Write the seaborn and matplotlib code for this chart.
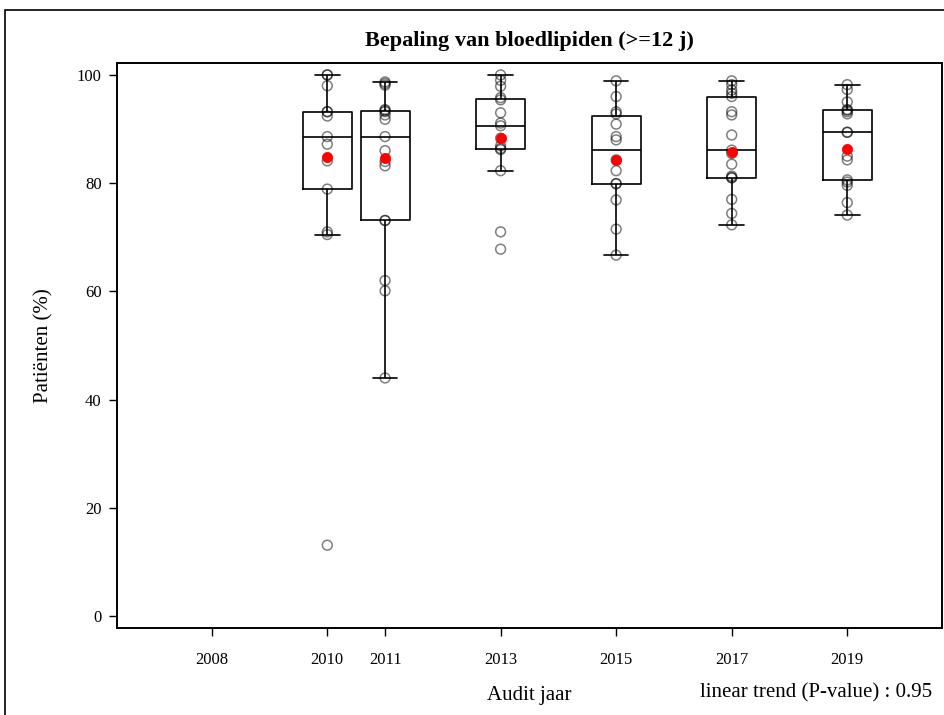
import numpy as np
import pandas as pd
import matplotlib
matplotlib.use("Agg")
import matplotlib.pyplot as plt
from matplotlib.patches import Rectangle
import seaborn as sns

# Percentage of patients per centre, per audit year
jaren = [2010, 2011, 2013, 2015, 2017, 2019]
waarden_2010 = [13.1, 70.5, 71.0, 78.9, 84.1, 87.2, 88.6, 92.4, 93.2, 93.2, 98.0, 100.0, 100.0]
waarden_2011 = [44.0, 60.1, 62.0, 73.1, 73.1, 83.2, 84.0, 86.0, 88.6, 91.8, 92.6, 93.2,
                93.4, 93.6, 98.1, 98.4, 98.7]
waarden_2013 = [67.8, 71.0, 82.3, 86.2, 86.4, 86.9, 88.3, 90.6, 91.1, 93.0, 95.4, 95.8,
                97.9, 99.0, 100.0]
waarden_2015 = [66.7, 71.5, 76.9, 79.9, 79.9, 82.3, 84.3, 88.0, 88.6, 90.9, 92.8, 93.2,
                96.0, 98.9]
waarden_2017 = [72.3, 74.4, 77.0, 81.0, 81.0, 81.3, 83.5, 85.5, 86.1, 88.9, 92.6, 93.2,
                96.0, 96.6, 97.2, 98.2, 98.9]
waarden_2019 = [74.1, 76.4, 79.6, 80.2, 80.6, 84.3, 85.0, 89.4, 89.4, 92.8, 93.2, 93.5,
                93.6, 95.0, 97.3, 98.2]
gemiddelden = [84.9, 84.7, 88.3, 84.3, 85.8, 86.3]

x_ticks = [2008, 2010, 2011, 2013, 2015, 2017, 2019]
y_ticks = [0, 20, 40, 60, 80, 100]
p_waarde = 0.95

reeksen = [waarden_2010, waarden_2011, waarden_2013, waarden_2015, waarden_2017, waarden_2019]
df = pd.DataFrame({
    "jaar": np.concatenate([[j] * len(w) for j, w in zip(jaren, reeksen)]),
    "pct": np.concatenate(reeksen),
})
df_gem = pd.DataFrame({"jaar": jaren, "gem": gemiddelden})

sns.set_theme(style="white")
plt.rcParams["font.family"] = ["Liberation Serif", "DejaVu Serif"]

fig = plt.figure(figsize=(9.45, 7.15), dpi=100)
ax = fig.add_axes([117 / 945, 1 - 628 / 715, (942 - 117) / 945, (628 - 63) / 715])

sns.boxplot(data=df, x="jaar", y="pct", native_scale=True, width=0.85,
            showfliers=False, fill=False, color="black", linewidth=1.2,
            whis=1.5, ax=ax, zorder=2)
sns.scatterplot(data=df, x="jaar", y="pct", marker="o", s=50,
                facecolor="none", edgecolor=(0, 0, 0, 0.5), linewidth=1.1,
                ax=ax, zorder=3, legend=False)
sns.scatterplot(data=df_gem, x="jaar", y="gem", marker="o", s=55,
                color="red", edgecolor="red", linewidth=0.5,
                ax=ax, zorder=4, legend=False)

ax.set_xlim(2006.36, 2020.64)
ax.set_ylim(-2.2, 102.2)
ax.set_xticks(x_ticks)
ax.set_xticklabels([str(t) for t in x_ticks])
ax.set_yticks(y_ticks)
ax.set_yticklabels([str(t) for t in y_ticks])
ax.tick_params(axis="both", which="major", direction="out", length=6,
               width=1, color="black", labelsize=12, labelcolor="black",
               bottom=True, left=True)
ax.tick_params(axis="x", pad=11)
ax.tick_params(axis="y", pad=5)
for s in ax.spines.values():
    s.set_visible(True)
    s.set_color("black")
    s.set_linewidth(1.4)
ax.grid(False)

ax.set_xlabel("Audit jaar", fontsize=15, color="black")
ax.xaxis.set_label_coords(0.5, (628 - 686) / 565)
ax.set_ylabel("Patiënten (%)", fontsize=15, color="black")
ax.yaxis.set_label_coords((53 - 117) / 825, 0.5)

fig.text(529.5 / 945, 1 - 41 / 715, "Bepaling van bloedlipiden (>=12 j)",
         ha="center", va="center", fontsize=16, fontweight="bold", color="black")
fig.text(932 / 945, 1 - 693 / 715, f"linear trend (P-value) : {p_waarde:.2f}",
         ha="right", va="center", fontsize=15, color="black")

# outer frame around the whole graphic
fig.patches.append(Rectangle((5 / 945, -0.05), 1.1, 1 - 10 / 715 + 0.05,
                             transform=fig.transFigure, fill=False,
                             edgecolor="black", linewidth=1.2))

fig.savefig("out.png", dpi=100)
